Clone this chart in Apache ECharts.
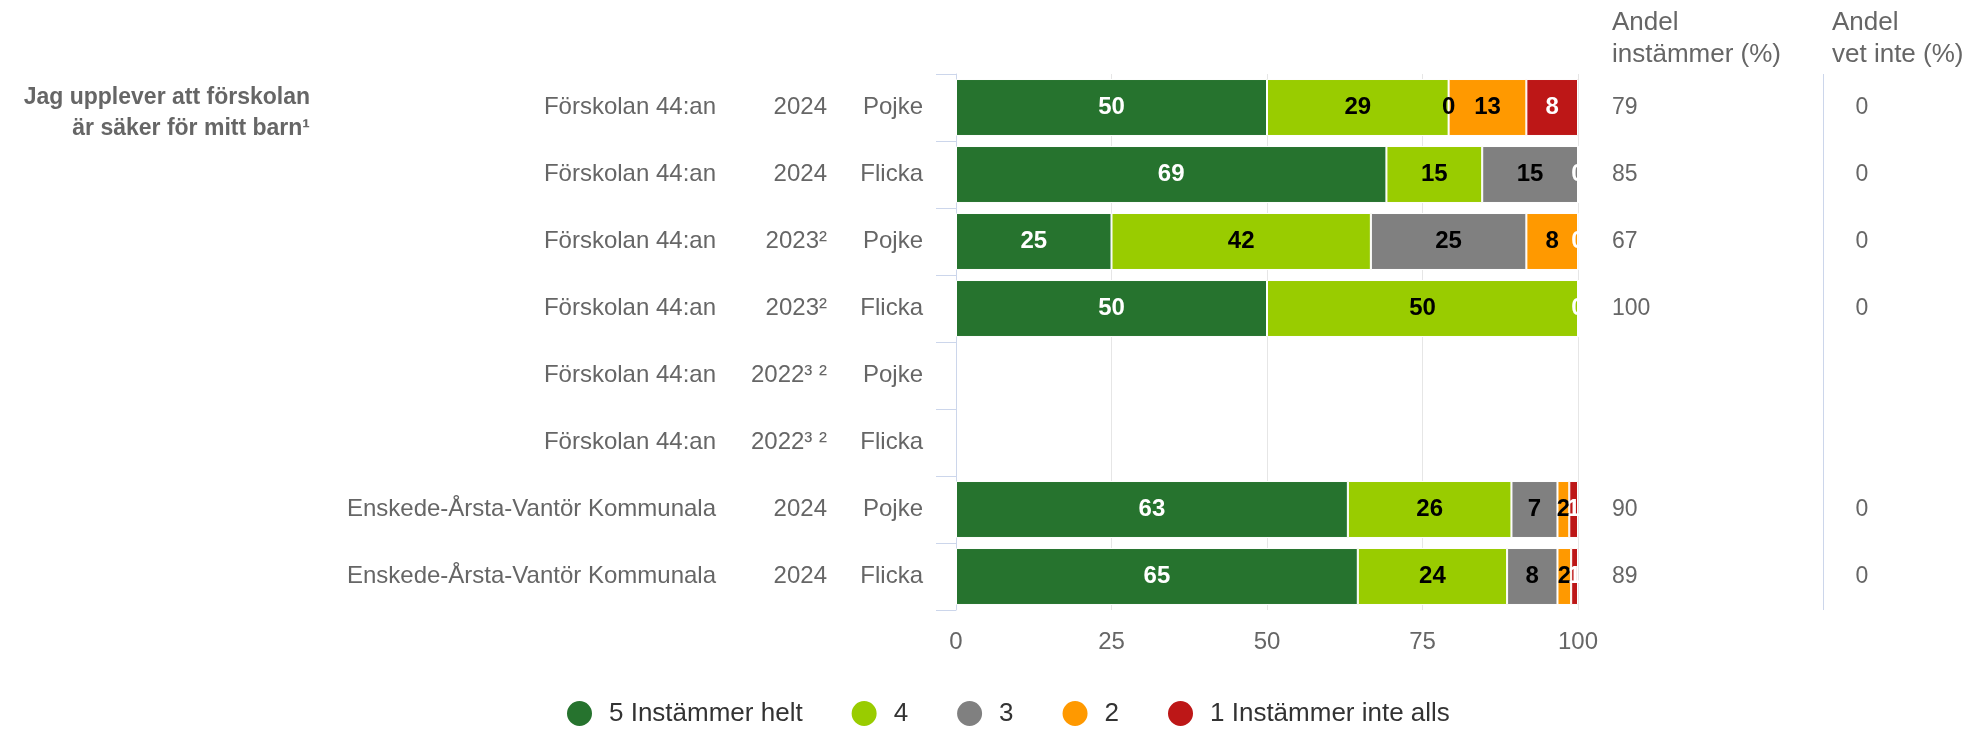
<!DOCTYPE html>
<html>
<head>
<meta charset="utf-8">
<script src="https://cdn.jsdelivr.net/npm/echarts@6/dist/echarts.min.js"></script>
<style>
html,body{margin:0;padding:0;background:#fff;}
#c{width:1973px;height:729px;}
</style>
</head>
<body>
<div id="c"></div>
<script>
const schools = ['Förskolan 44:an','Förskolan 44:an','Förskolan 44:an','Förskolan 44:an','Förskolan 44:an','Förskolan 44:an','Enskede-Årsta-Vantör Kommunala','Enskede-Årsta-Vantör Kommunala'];
const years = ['2024','2024','2023²','2023²','2022³ ²','2022³ ²','2024','2024'];
const genders = ['Pojke','Flicka','Pojke','Flicka','Pojke','Flicka','Pojke','Flicka'];

const seriesNames = ['5 Instämmer helt','4','3','2','1 Instämmer inte alls'];
const s5 = [50, 69.2, 25, 50, null, null, 63.0, 64.6];
const s4 = [29.2, 15.4, 41.7, 50, null, null, 26.3, 24.0];
const s3 = [0, 15.4, 25, 0, null, null, 7.4, 8.1];
const s2 = [12.5, 0, 8.3, 0, null, null, 1.9, 2.2];
const s1 = [8.3, 0, 0, 0, null, null, 1.4, 1.1];

const agreeShare = ['79','85','67','100','','','90','89'];
const dontKnowShare = ['0','0','0','0','','','0','0'];

const xTicks = [0, 25, 50, 75, 100];

const colors = ['#26732e','#99cc00','#808080','#ff9900','#bd1717'];
const labelColors = ['#ffffff','#000000','#000000','#000000','#ffffff'];
const allSeries = [s5, s4, s3, s2, s1];

const FONT = "'Liberation Sans', Arial, Helvetica, sans-serif";

const chart = echarts.init(document.getElementById('c'));

function catAxis(data, opts) {
  return Object.assign({
    type: 'category',
    data: data,
    inverse: true,
    gridIndex: 0,
    axisLine: {show: false},
    axisTick: {show: false},
    splitLine: {show: false},
    axisLabel: {color: '#666666', fontSize: 24, fontFamily: FONT}
  }, opts);
}

const series = allSeries.map((vals, i) => ({
  name: seriesNames[i],
  type: 'bar',
  stack: 'total',
  yAxisIndex: 0,
  barCategoryGap: '15%',
  data: vals,
  itemStyle: {color: colors[i], borderColor: '#ffffff', borderWidth: 1},
  label: {
    show: true,
    position: 'inside',
    fontSize: 24,
    fontWeight: 'bold',
    fontFamily: FONT,
    color: labelColors[i],
    formatter: function (p) {
      const v = p.value;
      if (v === null || v === undefined) return '';
      if (v === 0 && i < allSeries.length - 1) {
        const next = allSeries[i + 1][p.dataIndex];
        if (next === 0) return '';
      }
      return String(Math.round(v));
    }
  },
  emphasis: {disabled: true}
}));

chart.setOption({
  animation: false,
  color: colors,
  grid: {left: 956, right: 395, top: 74, bottom: 119, containLabel: false},
  xAxis: {
    type: 'value',
    min: xTicks[0],
    max: xTicks[xTicks.length - 1],
    interval: 25,
    axisLine: {show: false},
    axisTick: {show: false},
    splitLine: {show: true, lineStyle: {color: '#e6e6e6', width: 1}},
    axisLabel: {color: '#666666', fontSize: 24, fontFamily: FONT, margin: 20}
  },
  yAxis: [
    catAxis(genders, {
      position: 'left',
      axisLine: {show: true, lineStyle: {color: '#ccd6eb', width: 1}},
      axisTick: {show: true, length: 20, lineStyle: {color: '#ccd6eb', width: 1}},
      axisLabel: {color: '#666666', fontSize: 24, fontFamily: FONT, margin: 33, align: 'right'}
    }),
    catAxis(years, {
      position: 'left',
      axisLabel: {color: '#666666', fontSize: 24, fontFamily: FONT, margin: 129, align: 'right'}
    }),
    catAxis(schools, {
      position: 'left',
      axisLabel: {color: '#666666', fontSize: 24, fontFamily: FONT, margin: 240, align: 'right'}
    }),
    catAxis(agreeShare, {
      position: 'right',
      axisLabel: {color: '#666666', fontSize: 23, fontFamily: FONT, margin: 34, align: 'left'}
    }),
    catAxis(dontKnowShare, {
      position: 'right',
      axisLabel: {color: '#666666', fontSize: 23, fontFamily: FONT, margin: 284, align: 'center'}
    })
  ],
  legend: {
    left: 560,
    top: 694,
    icon: 'circle',
    itemWidth: 27,
    itemHeight: 27,
    itemGap: 47,
    selectedMode: false,
    textStyle: {color: '#333333', fontSize: 26, fontFamily: FONT, padding: [0, 0, 0, 11]},
    data: seriesNames
  },
  graphic: [
    {
      type: 'text',
      silent: true,
      style: {
        text: 'Jag upplever att förskolan\när säker för mitt barn¹',
        x: 310, y: 82,
        align: 'right', verticalAlign: 'top',
        fill: '#666666',
        font: "bold 23px 'Liberation Sans', Arial, sans-serif",
        lineHeight: 31
      }
    },
    {
      type: 'text',
      silent: true,
      style: {
        text: 'Andel\ninstämmer (%)',
        x: 1612, y: 7,
        align: 'left', verticalAlign: 'top',
        fill: '#666666',
        font: "26px 'Liberation Sans', Arial, sans-serif",
        lineHeight: 32
      }
    },
    {
      type: 'text',
      silent: true,
      style: {
        text: 'Andel\nvet inte (%)',
        x: 1832, y: 7,
        align: 'left', verticalAlign: 'top',
        fill: '#666666',
        font: "26px 'Liberation Sans', Arial, sans-serif",
        lineHeight: 32
      }
    },
    {
      type: 'line',
      silent: true,
      shape: {x1: 1823.5, y1: 74, x2: 1823.5, y2: 610},
      style: {stroke: '#ccd6eb', lineWidth: 1}
    }
  ],
  series: series
});
</script>
</body>
</html>
